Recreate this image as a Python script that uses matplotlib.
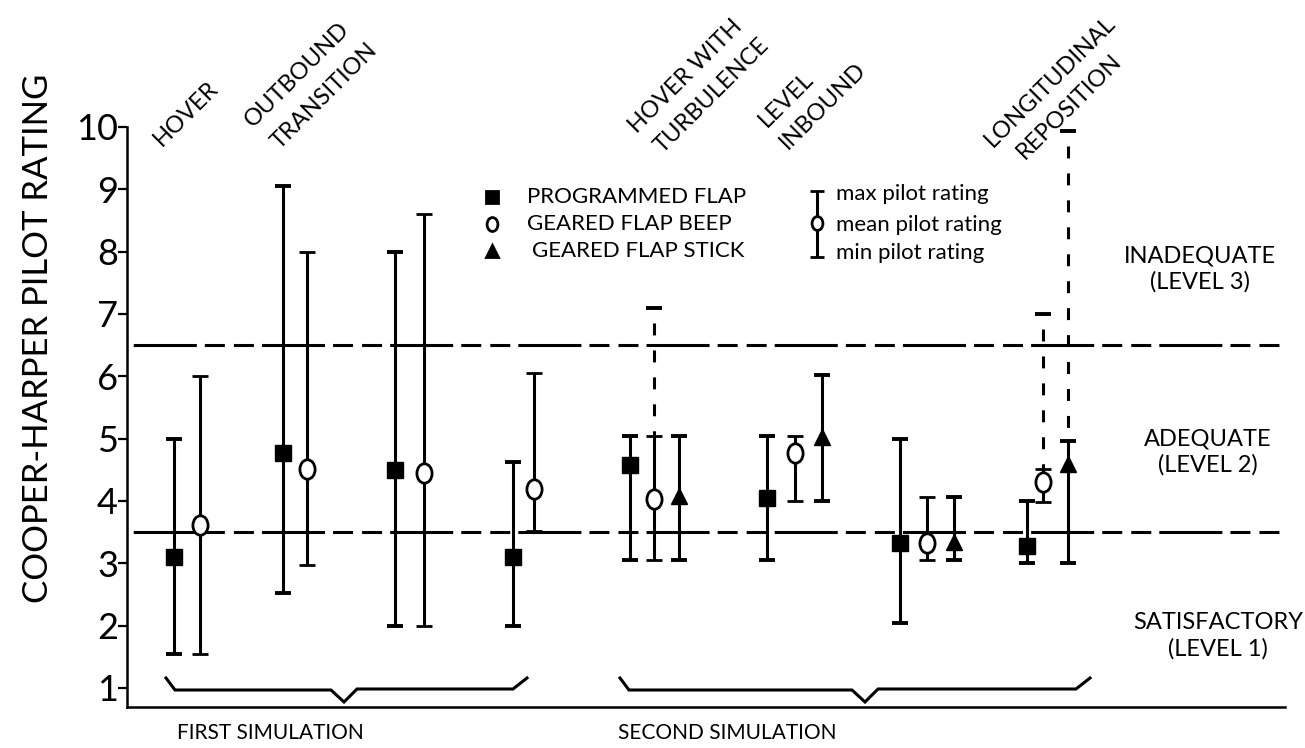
import numpy as np
import matplotlib
matplotlib.use("Agg")
import matplotlib.pyplot as plt
from matplotlib.path import Path
from matplotlib.transforms import Affine2D

plt.rcParams["font.family"] = ["Lato", "DejaVu Sans"]
plt.rcParams["lines.scale_dashes"] = False

nan = np.nan

# ---- data (Cooper-Harper ratings: mean / min / max per task group) ----
prog_mean = [3.10, 4.77, 4.50, 3.10, 4.57, 4.05, 3.32, 3.27]
prog_min = [1.55, 2.52, 2.00, 2.00, 3.05, 3.05, 2.05, 3.00]
prog_max = [5.00, 9.05, 8.00, 4.62, 5.05, 5.05, 5.00, 4.00]

beep_mean = [3.62, 4.52, 4.45, 4.20, 4.03, 4.77, 3.32, 4.30]
beep_min = [1.55, 2.97, 2.00, 3.52, 3.05, 4.00, 3.05, 3.98]
beep_max = [6.00, 8.00, 8.60, 6.05, 5.05, 5.05, 4.07, 4.52]
beep_ext = [nan, nan, nan, nan, 7.10, nan, nan, 7.00]

# geared flap stick only flown in the second simulation
stick_mean = [4.08, 5.02, 3.35, 4.60]
stick_min = [3.05, 4.00, 3.05, 3.00]
stick_max = [5.05, 6.02, 4.07, 4.97]
stick_ext = [nan, nan, nan, 9.93]

level_bounds = [3.5, 6.5]
task_labels = [["HOVER"], ["OUTBOUND", "TRANSITION"], ["HOVER WITH", "TURBULENCE"],
               ["LEVEL", "INBOUND"], ["LONGITUDINAL", "REPOSITION"]]
level_labels = ["INADEQUATE\n(LEVEL 3)", "ADEQUATE\n(LEVEL 2)",
                "SATISFACTORY\n(LEVEL 1)"]
sim_labels = ["FIRST SIMULATION", "SECOND SIMULATION"]

# ---- layout ----
W, H = 1305, 748
prog_x = [0.47, 1.56, 2.68, 3.86, 5.03, 6.40, 7.73, 9.00]
beep_x = [0.73, 1.80, 2.97, 4.07, 5.27, 6.68, 8.00, 9.16]
stick_x = [5.52, 6.95, 8.27, 9.41]

fig = plt.figure(figsize=(W / 100, H / 100), dpi=100)
ax = fig.add_axes([127 / W, 1 - 707 / H, (1285 - 127) / W, (707 - 127) / H])
ax.set_xlim(0, 11.58)
ax.set_ylim(0.695, 10.0)


def px(xp, yp):
    """ pixel position (top-left origin) -> data coords """
    return ax.transData.inverted().transform((xp, H - yp))


# oval marker for the geared flap beep
oval = Path.unit_circle().transformed(Affine2D().scale(0.78, 1.0))

bar_kw = dict(color="black", elinewidth=2.2, capsize=6, capthick=2.8,
              linestyle="none", zorder=3)

# ---- level boundaries ----
dash_seq = [45.4, 5.8, 14.4, 6.5, 14.4, 5.8]
for yb in level_bounds:
    ax.plot([0, 11.53], [yb, yb], color="black", lw=2.2,
            linestyle=(87.8, dash_seq), zorder=2)

# ---- error bars ----
prog_err = [np.subtract(prog_mean, prog_min), np.subtract(prog_max, prog_mean)]
ax.errorbar(prog_x, prog_mean, yerr=prog_err, marker="s", ms=11,
            mfc="black", mec="black", **bar_kw)

beep_err = [np.subtract(beep_mean, beep_min), np.subtract(beep_max, beep_mean)]
ax.errorbar(beep_x, beep_mean, yerr=beep_err, marker=oval, ms=14,
            mfc="white", mec="black", mew=2.0, **bar_kw)

stick_err = [np.subtract(stick_mean, stick_min), np.subtract(stick_max, stick_mean)]
ax.errorbar(stick_x, stick_mean, yerr=stick_err, marker="^", ms=12,
            mfc="black", mec="black", **bar_kw)

# dashed extensions above the max rating
for xs, tops, exts in [(beep_x, beep_max, beep_ext), (stick_x, stick_max, stick_ext)]:
    for xv, top, ext in zip(xs, tops, exts):
        if np.isnan(ext):
            continue
        ax.plot([xv, xv], [ext, top], color="black", lw=2.2,
                linestyle=(8.6, [8.6, 10.8]), zorder=2)
        ax.plot([xv], [ext], marker="_", ms=12, mew=2.8, color="black", zorder=3)

# ---- braces ----
braces = [(166, 527, 344), (620, 1090, 865)]
for x0, x1, xm in braces:
    pts = [(x0, 678), (x0 + 9, 690), (xm - 13, 690), (xm, 702),
           (xm + 13, 689), (x1 - 14, 689), (x1, 678)]
    d = np.array([px(*p) for p in pts])
    ax.plot(d[:, 0], d[:, 1], color="black", lw=2.2, solid_joinstyle="miter",
            clip_on=False, zorder=2)

# ---- axes styling ----
for side in ["top", "right"]:
    ax.spines[side].set_visible(False)
ax.spines["left"].set_linewidth(1.8)
ax.spines["bottom"].set_linewidth(1.8)
ax.set_xticks([])
ax.set_yticks(range(1, 11))
ax.tick_params(axis="y", length=6.5, width=1.6, pad=0, labelsize=26)

fig.text(38 / W, 1 - 338 / H, "COOPER-HARPER PILOT RATING", rotation=90,
         ha="center", va="center", fontsize=25)

# ---- task labels (rotated 45 deg), one anchor per line at its baseline start ----
task_anchor = [[(162, 147)], [(253, 128), (280, 150)], [(637, 134), (663, 154)],
               [(767, 128), (788, 150)], [(993, 148), (1025, 160)]]
for anchors, lines in zip(task_anchor, task_labels):
    for (xa, ya), line in zip(anchors, lines):
        fig.text(xa / W, 1 - ya / H, line, rotation=45, rotation_mode="anchor",
                 ha="left", va="baseline", fontsize=17)

# ---- handling quality levels ----
level_pos = [(1200, 269), (1208, 452), (1218, 636)]
for (xa, ya), lab in zip(level_pos, level_labels):
    fig.text(xa / W, 1 - ya / H, lab, ha="center", va="center",
             multialignment="center", fontsize=17, linespacing=1.3)

# ---- simulation labels ----
for xa, lab in zip([270, 727], sim_labels):
    fig.text(xa / W, 1 - 733 / H, lab, ha="center", va="center", fontsize=15)

# ---- legend ----
legend_rows = [("s", "black", 9, "PROGRAMMED FLAP", 527, 197),
               (oval, "white", 10, "GEARED FLAP BEEP", 527, 224),
               ("^", "black", 9, "GEARED FLAP STICK", 532, 251)]
for mk, fc, ms, text, tx, ty in legend_rows:
    ax.plot(*px(492, ty), marker=mk, ms=ms, mfc=fc, mec="black", mew=2.0,
            clip_on=False)
    fig.text(tx / W, 1 - ty / H, text, ha="left", va="center", fontsize=16)

lx, ltop, lmid, lbot = 817, 191, 223, 257
(_, y_top), (_, y_mid), (_, y_bot) = px(lx, ltop), px(lx, lmid), px(lx, lbot)
x_leg = px(lx, 0)[0]
ax.errorbar([x_leg], [y_mid], yerr=[[y_mid - y_bot], [y_top - y_mid]],
            marker=oval, ms=10, mfc="white", mec="black", mew=2.0,
            color="black", elinewidth=2.2, capsize=5, capthick=2.6,
            clip_on=False)
for text, ty in [("max pilot rating", 194), ("mean pilot rating", 225),
                 ("min pilot rating", 253)]:
    fig.text(836 / W, 1 - ty / H, text, ha="left", va="center", fontsize=16)

fig.savefig("out.png", dpi=100)
